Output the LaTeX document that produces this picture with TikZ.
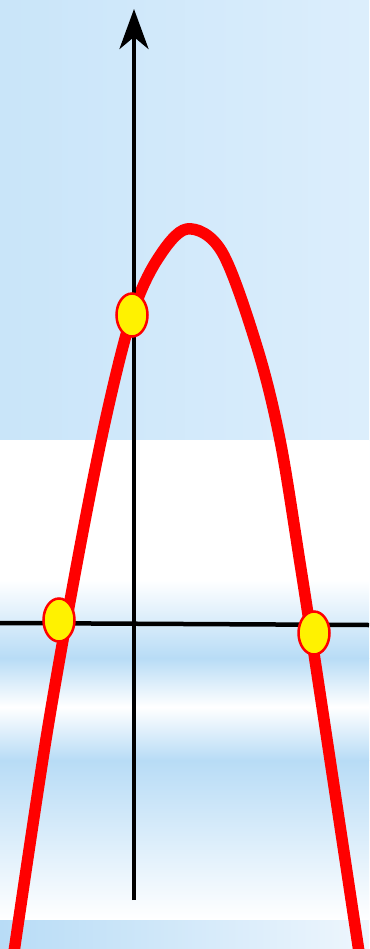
\documentclass[tikz,border=0pt]{standalone}
\usepackage{xcolor}
\usepackage{tikz}
\usetikzlibrary{arrows.meta,shapes.geometric}

\definecolor{skyA}{HTML}{C9E5F9}
\definecolor{skyB}{HTML}{DCEEFC}
\definecolor{band}{HTML}{B8DCF6}
\definecolor{bandR}{HTML}{EEF6FD}

\begin{document}
\begin{tikzpicture}[x=1pt, y=-1pt,
  ax/.style={draw=black, line width=4.5pt},
  graph/.style={draw=red, line width=11.5pt, line cap=butt, line join=round},
  pt/.style={ellipse, draw=red, line width=2.5pt, fill=yellow,
             minimum width=31pt, minimum height=43pt, inner sep=0pt}]

\useasboundingbox (0,0) rectangle (369,949);
\clip (0,0) rectangle (369,949);

% background
\shade[left color=skyA, right color=skyB] (0,0) rectangle (369,440);
\fill[white] (0,440) rectangle (369,580);
\shade[top color=white, bottom color=band] (0,580) rectangle (369,658);
\shade[top color=band, bottom color=white] (0,658) rectangle (369,707);
\shade[top color=white, bottom color=band] (0,707) rectangle (369,760);
\shade[top color=band, bottom color=white] (0,760) rectangle (369,920);
\shade[left color=band, right color=bandR] (0,920) rectangle (369,949);

\draw[graph] plot[smooth, tension=0.55] coordinates {
  (14,952) (47,733) (80,547) (107,413) (132,315) (157,260)
  (187,229) (222,252) (257,347) (280,440) (300,563) (318,680) (359,952)};

\coordinate (xl) at (0,623);
\coordinate (xr) at (369,625);
\coordinate (ybot) at (134,900);
\coordinate (ytop) at (134,9);

\draw[ax] (xl) -- (xr);
\draw[ax, -{Stealth[length=40pt, width=29pt, inset=12pt]}] (ybot) -- (ytop);

\node[pt] (yint)  at (132,315) {};
\node[pt] (rootl) at (59,620)  {};
\node[pt] (rootr) at (314,633) {};

\end{tikzpicture}
\end{document}
